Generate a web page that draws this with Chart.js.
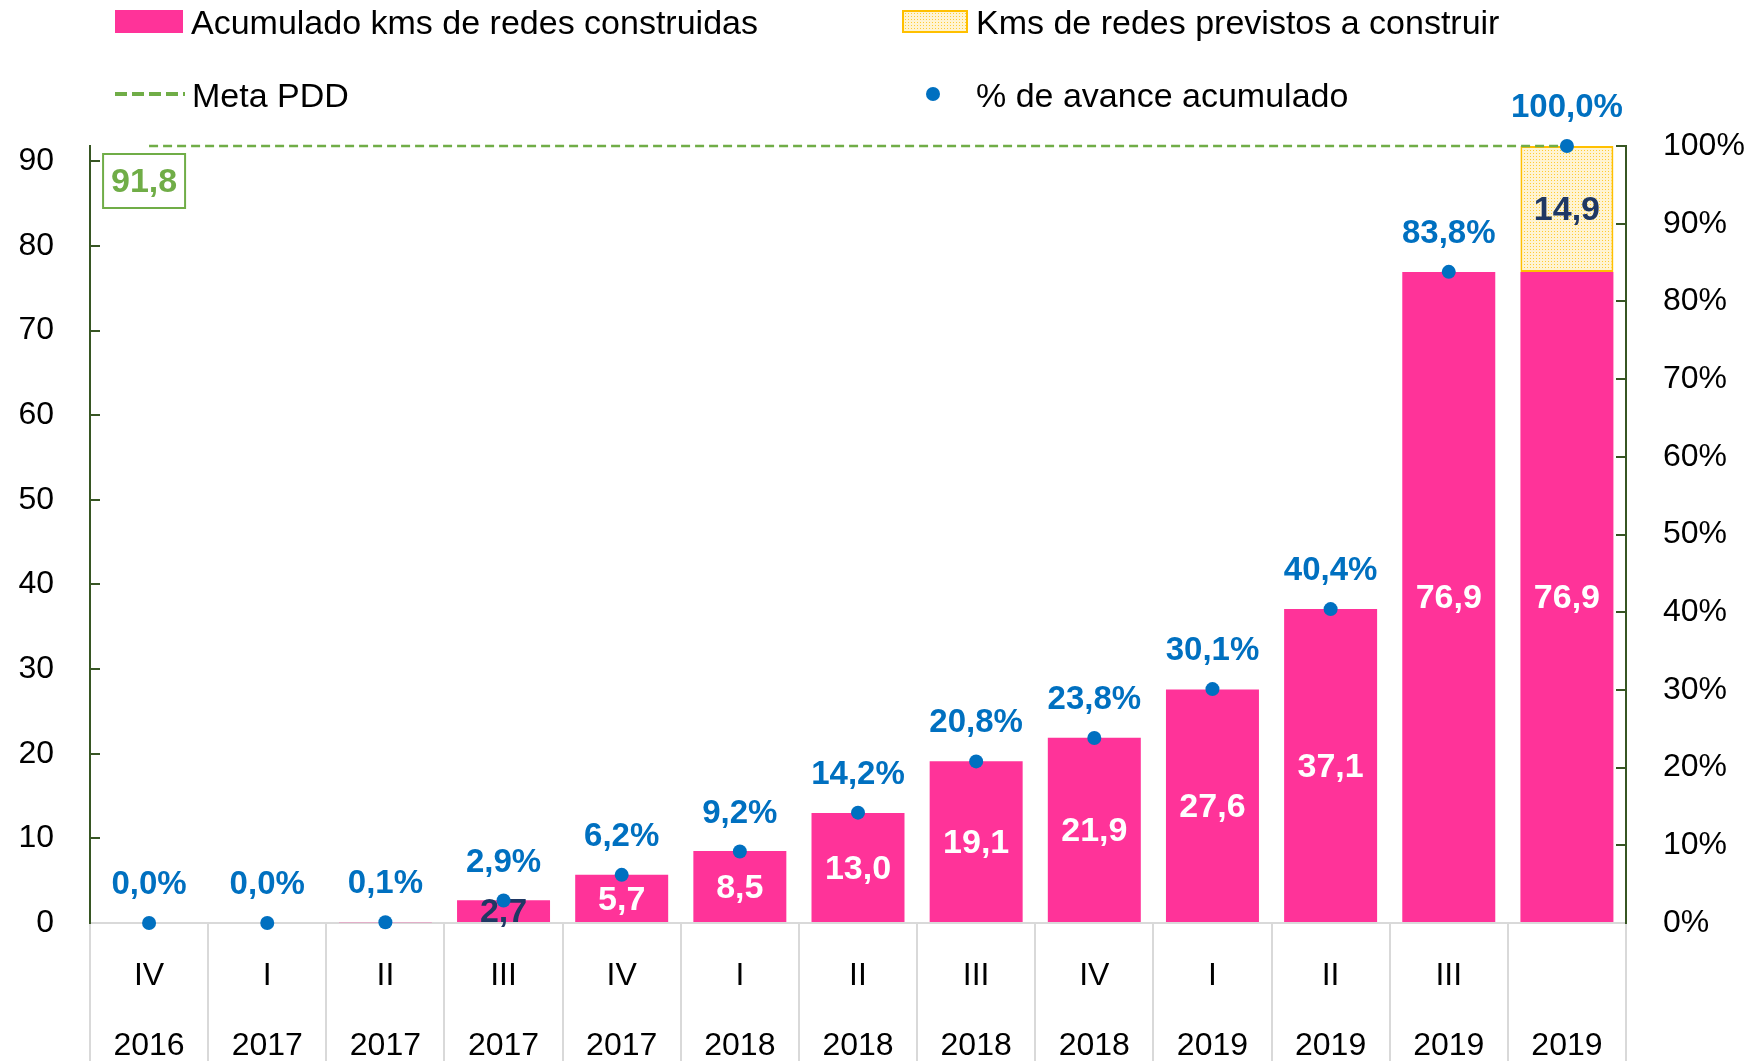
<!DOCTYPE html>
<html>
<head>
<meta charset="utf-8">
<script src="https://cdn.jsdelivr.net/npm/chart.js@4.4.1/dist/chart.umd.min.js"></script>
<style>
  body { margin: 0; background: #fff; }
  #wrap { position: relative; width: 1757px; height: 1061px; font-family: "Liberation Sans", Arial, sans-serif; }
  #chart { position: absolute; left: 0; top: 0; }
  .lg { position: absolute; font-size: 34px; line-height: 34px; color: #000; white-space: nowrap; }
  .box { position: absolute; }
</style>
</head>
<body>
<div id="wrap">
  <canvas id="chart" width="1757" height="1061"></canvas>

  <div class="box" style="left:115px; top:10px; width:68px; height:23px; background:#FF3399;"></div>
  <div class="lg" style="left:191px; top:5px;">Acumulado kms de redes construidas</div>

  <canvas id="lgPattern" class="box" width="66" height="23" style="left:902px; top:10px;"></canvas>
  <div class="lg" style="left:976px; top:5px;">Kms de redes previstos a construir</div>

  <svg class="box" style="left:115px; top:90px;" width="70" height="8">
    <line x1="0" y1="4" x2="70" y2="4" stroke="#70AD47" stroke-width="4" stroke-dasharray="12 5"></line>
  </svg>
  <div class="lg" style="left:192px; top:78px;">Meta PDD</div>

  <div class="box" style="left:926px; top:87px; width:14px; height:14px; border-radius:50%; background:#0070C0;"></div>
  <div class="lg" style="left:976px; top:78px;">% de avance acumulado</div>
</div>

<script>
const categories = [
  ["IV", "2016"], ["I", "2017"], ["II", "2017"], ["III", "2017"], ["IV", "2017"],
  ["I", "2018"], ["II", "2018"], ["III", "2018"], ["IV", "2018"],
  ["I", "2019"], ["II", "2019"], ["III", "2019"], ["", "2019"]
];
const kmsConstruidos = [0, 0, 0.1, 2.7, 5.7, 8.5, 13.0, 19.1, 21.9, 27.6, 37.1, 76.9, 76.9];
const kmsPrevistos = [null, null, null, null, null, null, null, null, null, null, null, null, 14.9];
const avancePct = [0.0, 0.0, 0.1, 2.9, 6.2, 9.2, 14.2, 20.8, 23.8, 30.1, 40.4, 83.8, 100.0];
const metaPDD = [91.8, 91.8, 91.8, 91.8, 91.8, 91.8, 91.8, 91.8, 91.8, 91.8, 91.8, 91.8, 91.8];
const kmTicks = [0, 10, 20, 30, 40, 50, 60, 70, 80, 90];

const FONT = '"Liberation Sans", Arial, sans-serif';
const fmt = v => v.toFixed(1).replace(".", ",");

// dotted yellow fill for the planned km
function makePattern() {
  const c = document.createElement("canvas");
  c.width = 3; c.height = 3;
  const g = c.getContext("2d");
  g.fillStyle = "#FFF4D2";
  g.fillRect(0, 0, 3, 3);
  g.fillStyle = "#FFCC33";
  g.fillRect(0, 0, 1, 1);
  return c;
}
const patternTile = makePattern();
const lgCtx = document.getElementById("lgPattern").getContext("2d");
lgCtx.fillStyle = lgCtx.createPattern(patternTile, "repeat");
lgCtx.fillRect(0, 0, 66, 23);
lgCtx.strokeStyle = "#FFC000";
lgCtx.lineWidth = 2;
lgCtx.strokeRect(1, 1, 64, 21);

const ctx = document.getElementById("chart").getContext("2d");
const yellowFill = ctx.createPattern(patternTile, "repeat");

const labelPlugin = {
  id: "valueLabels",
  afterDatasetDraw(chart, args) {
    const ds = chart.data.datasets[args.index];
    if (ds.type !== "bar") return;
    const c = chart.ctx;
    c.save();
    c.font = "bold 34px " + FONT;
    c.textAlign = "center";
    c.textBaseline = "middle";
    args.meta.data.forEach((el, i) => {
      const v = ds.data[i];
      if (v == null || v < 1) return;
      c.fillStyle = (args.index === 1 || v < 4) ? "#1F3864" : "#FFFFFF";
      c.fillText(fmt(v), el.x, (el.y + el.base) / 2 + 2);
    });
    c.restore();
  },
  afterDatasetsDraw(chart) {
    const c = chart.ctx;
    c.save();
    c.font = "bold 33px " + FONT;
    c.textAlign = "center";
    c.textBaseline = "middle";
    // % labels above points
    const pm = chart.getDatasetMeta(3);
    c.fillStyle = "#0070C0";
    pm.data.forEach((el, i) => {
      c.fillText(fmt(avancePct[i]) + "%", el.x, el.y - 38);
    });
    // meta label box
    const mm = chart.getDatasetMeta(2);
    const p0 = mm.data[0];
    const bx = p0.x - 46, by = p0.y + 8, bw = 82, bh = 54;
    c.fillStyle = "#FFFFFF";
    c.fillRect(bx, by, bw, bh);
    c.strokeStyle = "#70AD47";
    c.lineWidth = 2;
    c.strokeRect(bx, by, bw, bh);
    c.fillStyle = "#70AD47";
    c.font = "bold 34px " + FONT;
    c.fillText(fmt(metaPDD[0]), bx + bw / 2, by + bh / 2 + 2);
    c.restore();
  }
};

new Chart(ctx, {
  data: {
    labels: categories,
    datasets: [
      {
        type: "bar",
        label: "Acumulado kms de redes construidas",
        data: kmsConstruidos,
        backgroundColor: "#FF3399",
        borderWidth: 0,
        stack: "km",
        order: 3,
        clip: false,
      },
      {
        type: "bar",
        label: "Kms de redes previstos a construir",
        data: kmsPrevistos,
        backgroundColor: yellowFill,
        borderColor: "#FFC000",
        borderWidth: 2,
        borderSkipped: false,
        stack: "km",
        order: 3,
        clip: false,
      },
      {
        type: "line",
        label: "Meta PDD",
        data: metaPDD,
        borderColor: "#70AD47",
        borderWidth: 2.5,
        borderDash: [9, 5],
        pointRadius: 0,
        stack: "meta",
        order: 2,
        clip: false,
      },
      {
        type: "line",
        label: "% de avance acumulado",
        data: avancePct,
        yAxisID: "y1",
        showLine: false,
        pointRadius: 7,
        pointBackgroundColor: "#0070C0",
        pointBorderWidth: 0,
        order: 1,
        clip: false,
      },
    ],
  },
  plugins: [labelPlugin],
  options: {
    responsive: false,
    animation: false,
    layout: { padding: { top: 146, left: 0, right: 0, bottom: 0 } },
    plugins: { legend: { display: false }, tooltip: { enabled: false } },
    datasets: { bar: { barPercentage: 0.787, categoryPercentage: 1 } },
    scales: {
      x: {
        stacked: true,
        offset: true,
        grid: { offset: true, drawOnChartArea: false, drawTicks: true, tickLength: 140, color: "#D9D9D9", lineWidth: 2 },
        border: { color: "#D9D9D9", width: 2 },
        ticks: { padding: -122, color: "#000", maxRotation: 0, autoSkip: false, font: { family: FONT, size: 32, lineHeight: 2.2 } },
        afterFit(scale) { scale.height = 138; },
      },
      y: {
        stacked: true,
        position: "left",
        min: 0,
        max: 91.8,
        ticks: { stepSize: 10, padding: 46, color: "#000", font: { family: FONT, size: 32 } },
        afterBuildTicks(scale) { scale.ticks = kmTicks.map(v => ({ value: v })); },
        grid: { drawOnChartArea: false, drawTicks: true, tickLength: -10, color: "#375623", lineWidth: 2 },
        border: { color: "#375623", width: 2 },
        afterFit(scale) { scale.width = 90; },
      },
      y1: {
        position: "right",
        min: 0,
        max: 100,
        ticks: { stepSize: 10, padding: 47, color: "#000", font: { family: FONT, size: 32 }, callback: v => v + "%" },
        grid: { drawOnChartArea: false, drawTicks: true, tickLength: -10, color: "#375623", lineWidth: 2 },
        border: { color: "#375623", width: 2 },
        afterFit(scale) { scale.width = 131; },
      },
    },
  },
});
</script>
</body>
</html>
